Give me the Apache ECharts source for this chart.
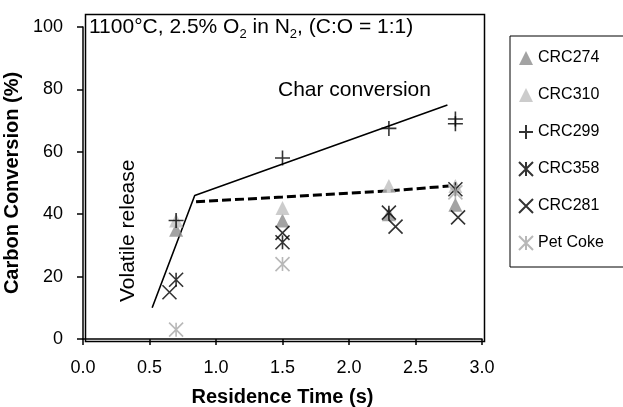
<!DOCTYPE html>
<html><head><meta charset="utf-8">
<script src="https://cdn.jsdelivr.net/npm/echarts@6/dist/echarts.min.js"></script>
<style>html,body{margin:0;padding:0;background:#fff}#c{width:623px;height:407px}</style>
</head><body><div id="c"></div>
<script>
// ---- data ----
const seriesNames = ['CRC274','CRC310','CRC299','CRC358','CRC281','Pet Coke'];
const crc274 = [[0.7,35],[1.5,38],[2.3,40],[2.8,43]];
const crc310 = [[0.7,38],[1.5,42],[2.3,49],[2.8,49]];
const crc299 = [[0.7,38],[1.5,58],[2.3,67.5],[2.8,69],[2.8,70.5]];
const crc358 = [[0.7,19],[1.5,31],[2.3,40.5],[2.8,48]];
const crc281 = [[0.65,15],[1.5,34],[2.35,36],[2.82,39]];
const petCoke = [[0.7,3],[1.5,24],[2.8,47]];
const trendSolid = [[0.52,10],[0.84,46],[2.74,75]];
const trendDashed = [[0.85,44],[1.5,45.5],[2.3,47.5],[2.75,49]];
const xTicks = [0,0.5,1,1.5,2,2.5,3];
const yTicks = [0,20,40,60,80,100];

const FONT = '"Liberation Sans", Arial, sans-serif';
const plus = 'path://M0,5L10,5M5,0L5,10';
const cross = 'path://M0,0L10,10M10,0L0,10';
const star = 'path://M0,0L10,10M10,0L0,10M5,0L5,10';

function lineSym(name, data, sym, col, size){
  return {name, type:'scatter', data, symbol:sym, symbolSize:size,
    itemStyle:{color:'rgba(0,0,0,0)', borderColor:col, borderWidth:1.6}, z:3};
}
const chart = echarts.init(document.getElementById('c'));
chart.setOption({
  animation:false,
  textStyle:{fontFamily:FONT},
  grid:{left:83, right:141, top:27, bottom:68, containLabel:false, outerBoundsMode:'none'},
  xAxis:{type:'value', min:0, max:3, interval:0.5,
    axisLine:{lineStyle:{color:'#000', width:1.5}},
    axisTick:{length:6, lineStyle:{color:'#000', width:1.5}},
    splitLine:{show:false},
    axisLabel:{color:'#000', fontSize:18, margin:20, formatter:v=>v.toFixed(1)},
    name:'Residence Time (s)', nameLocation:'middle', nameGap:48,
    nameTextStyle:{color:'#000', fontSize:20, fontWeight:'bold'}},
  yAxis:{type:'value', min:0, max:100, interval:20,
    axisLine:{show:true, lineStyle:{color:'#000', width:1.5}},
    axisTick:{show:true, length:6, lineStyle:{color:'#000', width:1.5}},
    splitLine:{show:false},
    axisLabel:{color:'#000', fontSize:18, margin:20},
    name:'Carbon Conversion (%)', nameLocation:'middle', nameGap:44,
    nameTextStyle:{color:'#000', fontSize:20, fontWeight:'bold'}},
  legend:{data:seriesNames, orient:'vertical', left:510, top:36,
    padding:[14,40,16,8], itemGap:21, itemWidth:14, itemHeight:14,
    borderColor:'#000', borderWidth:1, backgroundColor:'#fff',
    textStyle:{fontSize:16, color:'#000', fontFamily:FONT}},
  graphic:[
    {type:'rect', left:83, top:12, shape:{width:399, height:327},
     style:{fill:'none', stroke:'#000', lineWidth:1.5}, silent:true, z:-1},
    {type:'text', left:89, top:17, style:{
      text:'{n|1100°C, 2.5% O}{s|2}{n| in N}{s|2}{n|, (C:O = 1:1)}',
      rich:{n:{fontSize:21, fontFamily:FONT, fill:'#000', lineHeight:26, verticalAlign:'middle'},
            s:{fontSize:13, fontFamily:FONT, fill:'#000', lineHeight:13, verticalAlign:'bottom'}}}},
    {type:'text', left:278, top:80, style:{text:'Char conversion', fontSize:21, fontFamily:FONT, fill:'#000'}},
    {type:'text', x:118, y:302, rotation:Math.PI/2, style:{text:'Volatile release', fontSize:21, fontFamily:FONT, fill:'#000'}}
  ],
  series:[
    {name:'solid', type:'line', data:trendSolid, symbol:'none', lineStyle:{color:'#000', width:1.6}, z:2, silent:true},
    {name:'dashed', type:'line', data:trendDashed, symbol:'none', lineStyle:{color:'#000', width:3, type:[9,4]}, z:2, silent:true},
    {name:'CRC274', type:'scatter', data:crc274, symbol:'triangle', symbolSize:14, itemStyle:{color:'#8c8c8c'}, z:3},
    {name:'CRC310', type:'scatter', data:crc310, symbol:'triangle', symbolSize:14, itemStyle:{color:'#bfbfbf'}, z:3},
    lineSym('CRC299', crc299, plus, '#000', 15),
    lineSym('CRC358', crc358, star, '#000', 14),
    lineSym('CRC281', crc281, cross, '#000', 14),
    lineSym('Pet Coke', petCoke, star, '#a6a6a6', 14)
  ]
});
</script></body></html>
